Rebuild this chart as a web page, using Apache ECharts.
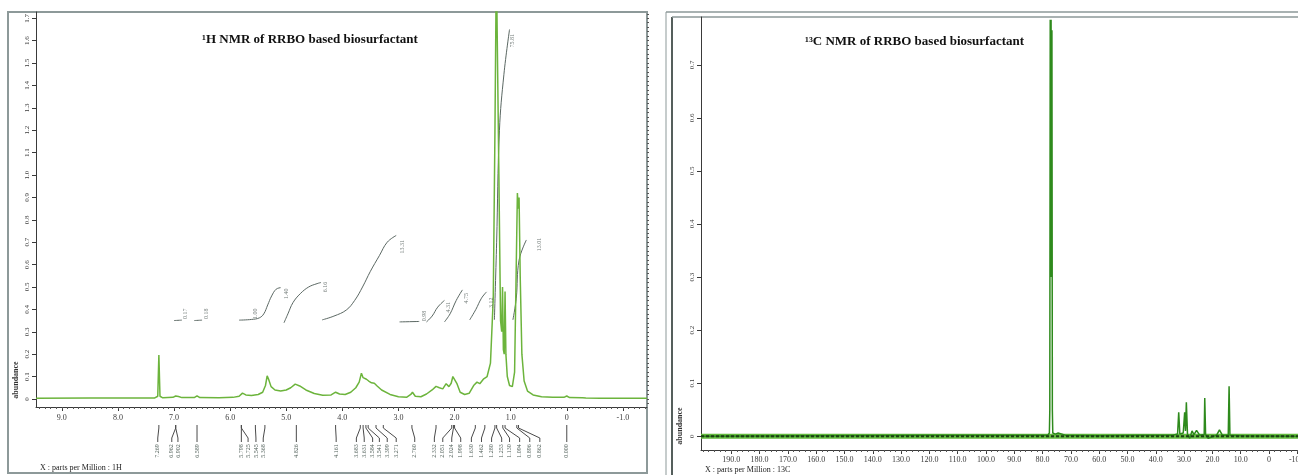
<!DOCTYPE html>
<html>
<head>
<meta charset="utf-8">
<style>
  html, body { margin: 0; padding: 0; background: #fff; }
  #chart { width: 1298px; height: 475px; }
</style>
<script src="https://cdn.jsdelivr.net/npm/echarts@6/dist/echarts.min.js"></script>
</head>
<body>
<div id="chart"></div>
<script>
// ---- 1H spectrum (ppm, abundance) ----
const protonSpectrum = [
  [9.46, 0.003], [8.5, 0.004], [7.35, 0.004], [7.29, 0.012], [7.27, 0.196], [7.25, 0.012],
  [7.2, 0.005], [7.02, 0.007], [6.97, 0.013], [6.92, 0.011], [6.86, 0.006], [6.64, 0.006],
  [6.59, 0.014], [6.54, 0.006], [6.2, 0.005], [5.95, 0.007], [5.84, 0.012], [5.78, 0.026],
  [5.72, 0.018], [5.62, 0.015], [5.5, 0.02], [5.42, 0.03], [5.37, 0.06], [5.34, 0.103],
  [5.31, 0.085], [5.27, 0.055], [5.2, 0.04], [5.1, 0.035], [5.0, 0.04], [4.92, 0.05],
  [4.84, 0.066], [4.76, 0.058], [4.65, 0.04], [4.5, 0.024], [4.35, 0.016], [4.2, 0.018],
  [4.12, 0.03], [4.05, 0.022], [3.95, 0.02], [3.85, 0.03], [3.76, 0.05], [3.7, 0.075],
  [3.66, 0.115], [3.63, 0.095], [3.6, 0.1], [3.57, 0.088], [3.53, 0.08], [3.48, 0.072],
  [3.43, 0.07], [3.38, 0.058], [3.3, 0.04], [3.15, 0.02], [3.0, 0.01], [2.85, 0.008],
  [2.78, 0.02], [2.75, 0.03], [2.7, 0.012], [2.6, 0.01], [2.5, 0.022], [2.4, 0.04],
  [2.33, 0.056], [2.27, 0.05], [2.21, 0.045], [2.15, 0.068], [2.1, 0.055], [2.06, 0.07],
  [2.03, 0.1], [2.0, 0.105], [1.96, 0.07], [1.9, 0.03], [1.82, 0.02], [1.74, 0.025],
  [1.66, 0.06], [1.6, 0.075], [1.55, 0.068], [1.48, 0.09], [1.42, 0.1], [1.36, 0.16],
  [1.31, 0.45], [1.28, 1.2], [1.255, 1.95], [1.235, 1.95], [1.21, 1.0], [1.18, 0.35],
  [1.16, 0.3], [1.145, 0.5], [1.13, 0.22], [1.115, 0.2], [1.1, 0.48], [1.085, 0.2],
  [1.06, 0.1], [1.02, 0.06], [0.97, 0.055], [0.93, 0.12], [0.9, 0.6], [0.88, 0.92],
  [0.865, 0.85], [0.85, 0.9], [0.83, 0.55], [0.8, 0.2], [0.76, 0.08], [0.7, 0.035],
  [0.6, 0.018], [0.45, 0.01], [0.25, 0.007], [0.05, 0.007], [0.0, 0.013], [-0.05, 0.006],
  [-0.28, 0.005], [-0.31, 0.011], [-0.34, 0.004], [-0.6, 0.003], [-1.43, 0.003]
];

// integral traces drawn over the 1H spectrum
const protonIntegrals = [
  [[7.0, 0.35], [6.86, 0.352]],
  [[6.64, 0.35], [6.5, 0.352]],
  [[5.84, 0.352], [5.62, 0.355], [5.48, 0.362], [5.4, 0.38], [5.33, 0.42], [5.26, 0.46], [5.18, 0.49], [5.1, 0.497]],
  [[5.04, 0.34], [4.97, 0.38], [4.88, 0.43], [4.75, 0.47], [4.6, 0.5], [4.45, 0.515], [4.38, 0.52]],
  [[4.36, 0.353], [4.15, 0.37], [3.93, 0.397], [3.78, 0.44], [3.64, 0.5], [3.5, 0.57], [3.34, 0.64], [3.2, 0.7], [3.04, 0.73]],
  [[2.98, 0.344], [2.63, 0.346]],
  [[2.5, 0.344], [2.4, 0.37], [2.3, 0.41], [2.18, 0.44]],
  [[2.18, 0.344], [2.08, 0.38], [1.97, 0.44], [1.86, 0.487]],
  [[1.73, 0.353], [1.62, 0.4], [1.52, 0.45], [1.43, 0.478]],
  [[1.29, 0.353], [1.25, 0.7], [1.2, 1.2], [1.12, 1.45], [1.02, 1.65]],
  [[0.96, 0.353], [0.9, 0.45], [0.85, 0.62], [0.72, 0.71]]
];
const integralLabels = [
  [6.8, 0.38, '0.17'], [6.43, 0.38, '0.18'], [5.55, 0.38, '1.00'], [5.0, 0.47, '1.40'],
  [4.3, 0.5, '6.16'], [2.93, 0.68, '13.31'], [2.54, 0.37, '0.98'], [2.11, 0.41, '4.31'],
  [1.79, 0.45, '4.75'], [1.34, 0.43, '3.12'], [0.96, 1.6, '75.81'], [0.48, 0.69, '13.01']
];

// peak-pick marks below the 1H axis
const peakShift = [7.27, 6.97, 6.97, 6.59, 5.8, 5.8, 5.55, 5.38, 4.82, 4.12,
  3.68, 3.63, 3.58, 3.54, 3.4, 3.27, 2.76, 2.33, 2.05, 2.02, 2.0, 1.63, 1.46,
  1.28, 1.25, 1.14, 1.1, 0.89, 0.86, 0.0];
const peakLabelShift = [7.29, 7.04, 6.93, 6.59, 5.8, 5.68, 5.54, 5.41, 4.82, 4.11,
  3.75, 3.61, 3.46, 3.34, 3.2, 3.04, 2.71, 2.36, 2.21, 2.05, 1.89, 1.7, 1.52,
  1.34, 1.16, 1.02, 0.84, 0.66, 0.48, 0.0];
const peakLabels = ['7.269', '6.962', '6.902', '6.589', '5.798', '5.725', '5.545', '5.368', '4.826', '4.161',
  '3.683', '3.631', '3.584', '3.541', '3.399', '3.271', '2.760', '2.332', '2.051', '2.024', '1.998', '1.630', '1.462',
  '1.280', '1.253', '1.130', '1.094', '0.896', '0.862', '0.000'];

// ---- 13C spectrum (ppm, abundance) ----
const carbonSpectrum = [
  [200.7, 0], [120, 0.002], [78.2, 0.002], [77.6, 0.006], [77.45, 0.05], [77.3, 0.785],
  [77.15, 0.3], [77.0, 0.785], [76.85, 0.3], [76.7, 0.765], [76.55, 0.05], [76.4, 0.006],
  [75.5, 0.004], [74.5, 0.006], [72, 0.002], [60, 0.001], [45, 0.002], [34, 0.002],
  [32.3, 0.004], [31.9, 0.045], [31.5, 0.004], [30.3, 0.006], [29.8, 0.045], [29.5, 0.01],
  [29.2, 0.064], [28.8, 0.004], [28.0, -0.004], [27.2, 0.01], [26.5, 0.003], [25.6, 0.011],
  [24.5, 0.002], [22.9, 0.003], [22.7, 0.072], [22.4, 0.003], [21.5, -0.004], [18.5, 0.002],
  [17.5, 0.012], [16.5, 0.002], [14.4, 0.002], [14.1, 0.094], [13.8, 0.002], [10, 0.001],
  [-10.25, 0]
];

// axis extents and tick labels
const hShiftRange = [-1.43, 9.46];
const hAbundRange = [-0.036, 1.728];
const cShiftRange = [-10.25, 200.7];
const cAbundRange = [-0.026, 0.79];
const hShiftTicks = [9, 8, 7, 6, 5, 4, 3, 2, 1, 0, -1];
const hAbundTicks = [0, 0.1, 0.2, 0.3, 0.4, 0.5, 0.6, 0.7, 0.8, 0.9, 1.0, 1.1, 1.2, 1.3, 1.4, 1.5, 1.6, 1.7];
const cShiftTicks = [190, 180, 170, 160, 150, 140, 130, 120, 110, 100, 90, 80, 70, 60, 50, 40, 30, 20, 10, 0, -10];
const cAbundTicks = [0, 0.1, 0.2, 0.3, 0.4, 0.5, 0.6, 0.7];

const SERIF = '"Liberation Serif", "DejaVu Serif", serif';
const INK = '#3a3a3a';
const FRAME = '#8d9999';

function steps(from, to, step) {
  const out = [];
  const n = Math.round((to - from) / step);
  for (let i = 0; i <= n; i++) out.push(+(from + i * step).toFixed(4));
  return out;
}

function majorAxis(gridIndex, range, ticks, extra) {
  return Object.assign({
    gridIndex, type: 'value', min: range[0], max: range[1],
    axisLine: { show: true, onZero: false, lineStyle: { color: INK, width: 1 } },
    axisTick: { show: true, customValues: ticks, length: 4, lineStyle: { color: INK } },
    splitLine: { show: false },
    axisLabel: {
      customValues: ticks, color: INK, fontSize: 8, fontFamily: SERIF
    }
  }, extra);
}
function minorAxis(gridIndex, range, ticks, extra) {
  return Object.assign({
    gridIndex, type: 'value', min: range[0], max: range[1],
    axisLine: { show: false, onZero: false },
    axisTick: { show: true, customValues: ticks, length: 2, lineStyle: { color: '#555' } },
    splitLine: { show: false },
    axisLabel: { show: false }
  }, extra);
}

const fmtH = v => (v === 0 ? '0' : v.toFixed(1));
const fmtC = v => (v === 0 ? '0' : v.toFixed(1));

const chart = echarts.init(document.getElementById('chart'), null, { renderer: 'canvas' });

const integralSeries = protonIntegrals.map(curve => ({
  type: 'line', xAxisIndex: 0, yAxisIndex: 0, data: curve, smooth: 0.4,
  showSymbol: false, silent: true, z: 3,
  lineStyle: { color: '#5b6863', width: 1 }
}));

const option = {
  animation: false,
  backgroundColor: '#fff',
  title: [
    { text: '\u00B9H NMR of RRBO based biosurfactant', left: 197, top: 28,
      textStyle: { fontFamily: SERIF, fontWeight: 'bold', fontSize: 13, color: '#111' } },
    { text: '\u00B9\u00B3C NMR of RRBO based biosurfactant', left: 800, top: 30,
      textStyle: { fontFamily: SERIF, fontWeight: 'bold', fontSize: 13, color: '#111' } }
  ],
  grid: [
    { left: 36, top: 12, width: 611, height: 395, show: false, outerBoundsMode: 'none', containLabel: false },
    { left: 701, top: 17, width: 597, height: 433, show: false, outerBoundsMode: 'none', containLabel: false }
  ],
  xAxis: [
    majorAxis(0, hShiftRange, hShiftTicks, { inverse: true, position: 'bottom',
      axisLabel: { customValues: hShiftTicks, color: INK, fontSize: 8, fontFamily: SERIF, margin: 7, formatter: fmtH } }),
    minorAxis(0, hShiftRange, steps(-1.4, 9.4, 0.1), { inverse: true, position: 'bottom' }),
    majorAxis(1, cShiftRange, cShiftTicks, { inverse: true, position: 'bottom',
      axisLabel: { customValues: cShiftTicks, color: INK, fontSize: 8, fontFamily: SERIF, margin: 6, formatter: fmtC } }),
    minorAxis(1, cShiftRange, steps(-10, 200, 2), { inverse: true, position: 'bottom' })
  ],
  yAxis: [
    majorAxis(0, hAbundRange, hAbundTicks, {
      axisLabel: { customValues: hAbundTicks, color: INK, fontSize: 7, fontFamily: SERIF, rotate: 90, margin: 5, formatter: fmtH } }),
    minorAxis(0, hAbundRange, steps(-0.02, 1.72, 0.02)),
    majorAxis(1, cAbundRange, cAbundTicks, {
      axisLabel: { customValues: cAbundTicks, color: INK, fontSize: 7, fontFamily: SERIF, rotate: 90, margin: 5, formatter: v => (v === 0 ? '0' : v.toFixed(1)) } }),
    minorAxis(1, cAbundRange, steps(-0.02, 0.78, 0.01))
  ],
  series: [
    {
      type: 'line', xAxisIndex: 0, yAxisIndex: 0, data: protonSpectrum,
      showSymbol: false, silent: true, z: 4,
      lineStyle: { color: '#6cb43c', width: 1.5 }
    },
    ...integralSeries,
    {
      type: 'scatter', xAxisIndex: 0, yAxisIndex: 0, data: integralLabels,
      symbolSize: 0, silent: true, z: 5,
      label: {
        show: true, position: 'inside', rotate: 90,
        formatter: p => p.data[2],
        fontSize: 6, fontFamily: SERIF, color: '#4b5652'
      }
    },
    {
      type: 'custom', xAxisIndex: 0, yAxisIndex: 0, clip: false, silent: true,
      data: peakShift.map((s, i) => [s, peakLabelShift[i]]),
      renderItem: (params, api) => {
        const x0 = api.coord([api.value(0), 0])[0];
        const x1 = api.coord([api.value(1), 0])[0];
        const yb = params.coordSys.y + params.coordSys.height;
        return {
          type: 'group',
          children: [
            { type: 'polyline',
              shape: { points: [[x0, yb + 18], [x0, yb + 21], [x1, yb + 31], [x1, yb + 35]] },
              style: { stroke: '#4a4a4a', lineWidth: 1, fill: null } },
            { type: 'text', x: x1, y: yb + 44, rotation: Math.PI / 2,
              style: { text: peakLabels[params.dataIndex], fontSize: 6, fontFamily: SERIF,
                fill: '#51605a', align: 'center', verticalAlign: 'middle' } }
          ]
        };
      }
    },
    {
      type: 'line', xAxisIndex: 2, yAxisIndex: 2,
      data: [[cShiftRange[1], 0], [cShiftRange[0], 0]],
      showSymbol: false, silent: true, z: 2,
      lineStyle: { color: '#62b83e', width: 5 }
    },
    {
      type: 'line', xAxisIndex: 2, yAxisIndex: 2, data: carbonSpectrum,
      showSymbol: false, silent: true, z: 3,
      lineStyle: { color: '#2e8a1c', width: 1.5 }
    },
    {
      type: 'line', xAxisIndex: 2, yAxisIndex: 2,
      data: [[cShiftRange[1], 0], [cShiftRange[0], 0]],
      showSymbol: false, silent: true, z: 4,
      lineStyle: { color: '#1c3d14', width: 2, type: [3, 2] }
    }
  ],
  graphic: [
    { type: 'rect', shape: { x: 8, y: 12, width: 639, height: 461 }, silent: true,
      style: { stroke: FRAME, lineWidth: 2, fill: null } },
    { type: 'line', shape: { x1: 666, y1: 12, x2: 666, y2: 475 }, silent: true,
      style: { stroke: FRAME, lineWidth: 1 } },
    { type: 'line', shape: { x1: 666, y1: 12, x2: 1298, y2: 12 }, silent: true,
      style: { stroke: FRAME, lineWidth: 1.5 } },
    { type: 'line', shape: { x1: 672, y1: 17, x2: 672, y2: 475 }, silent: true,
      style: { stroke: '#555f5c', lineWidth: 2 } },
    { type: 'line', shape: { x1: 672, y1: 17, x2: 1298, y2: 17 }, silent: true,
      style: { stroke: FRAME, lineWidth: 1.5 } },
    { type: 'text', x: 16, y: 380, rotation: Math.PI / 2, silent: true,
      style: { text: 'abundance', fontSize: 8, fontWeight: 'bold', fontFamily: SERIF, fill: '#333',
        align: 'center', verticalAlign: 'middle' } },
    { type: 'text', x: 680, y: 426, rotation: Math.PI / 2, silent: true,
      style: { text: 'abundance', fontSize: 8, fontWeight: 'bold', fontFamily: SERIF, fill: '#333',
        align: 'center', verticalAlign: 'middle' } },
    { type: 'text', x: 40, y: 468, silent: true,
      style: { text: 'X : parts per Million : 1H', fontSize: 8, fontFamily: SERIF, fill: '#222',
        align: 'left', verticalAlign: 'middle' } },
    { type: 'text', x: 705, y: 470, silent: true,
      style: { text: 'X : parts per Million : 13C', fontSize: 8, fontFamily: SERIF, fill: '#222',
        align: 'left', verticalAlign: 'middle' } }
  ]
};

chart.setOption(option);
</script>
</body>
</html>
